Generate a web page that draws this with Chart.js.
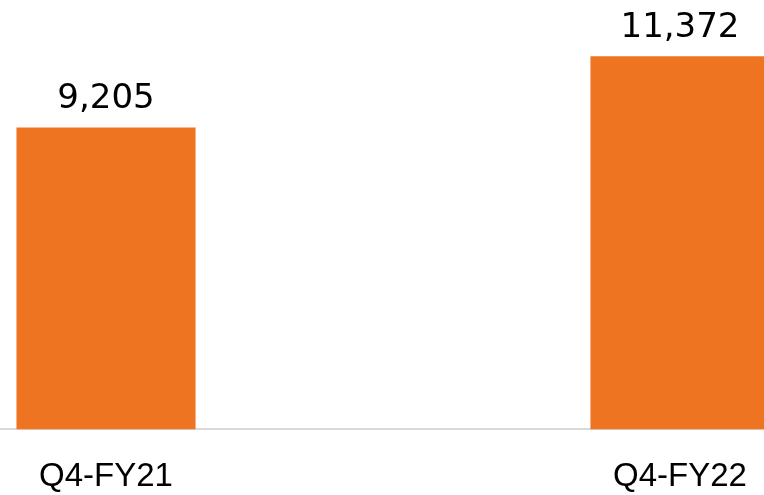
<!DOCTYPE html>
<html>
<head>
<meta charset="utf-8">
<script src="https://cdn.jsdelivr.net/npm/chart.js@4"></script>
<style>
  html, body { margin: 0; padding: 0; background: #fff; overflow: hidden; }
  #wrap { position: relative; width: 764px; height: 495px; overflow: hidden; }
  #box { position: absolute; left: -181px; top: 0; width: 1148px; height: 525px; }
</style>
</head>
<body>
<div id="wrap"><div id="box"><canvas id="grafik"></canvas></div></div>
<script>
const quarters = ["Q4-FY21", "Q4-FY22"];
const volumes = [9205, 11372];
const axisMax = 13090;

// value labels above each bar
const barLabels = {
  id: "barLabels",
  afterDatasetsDraw(chart) {
    const ctx = chart.ctx;
    const meta = chart.getDatasetMeta(0);
    ctx.save();
    ctx.font = "34px 'DejaVu Sans'";
    ctx.fillStyle = "#000";
    ctx.textAlign = "center";
    ctx.textBaseline = "alphabetic";
    meta.data.forEach((bar, i) => {
      ctx.fillText(volumes[i].toLocaleString("en-US"), bar.x, bar.y - 19);
    });
    ctx.restore();
  },
};

const grafik = document.getElementById("grafik");
let chart = new Chart(grafik, {
  type: "bar",
  data: {
    labels: quarters,
    datasets: [
      {
        data: volumes,
        backgroundColor: "#EF7421",
        barPercentage: 0.312,
        categoryPercentage: 1,
      },
    ],
  },
  options: {
    responsive: true,
    maintainAspectRatio: false,
    animation: false,
    layout: { padding: { top: 0, bottom: 0, left: 0, right: 0 } },
    plugins: { legend: { display: false }, tooltip: { enabled: false } },
    scales: {
      x: {
        grid: { display: false, drawTicks: false },
        border: { display: true, color: "#d9d9d9", width: 2 },
        ticks: {
          padding: 28,
          color: "#000",
          font: { family: "'Liberation Sans', Arial, sans-serif", size: 33 },
        },
      },
      y: {
        display: false,
        min: 0,
        max: axisMax,
      },
    },
  },
  plugins: [barLabels],
});
</script>
</body>
</html>
